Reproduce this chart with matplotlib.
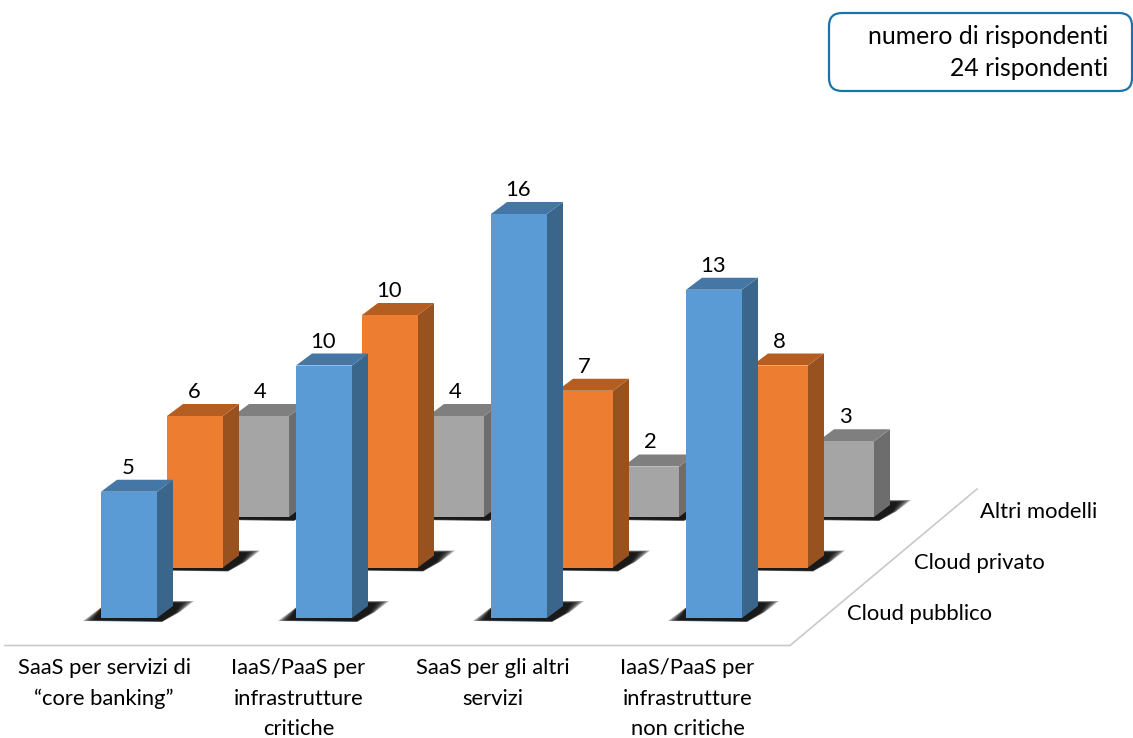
import matplotlib
matplotlib.use("Agg")
import matplotlib.pyplot as plt
from matplotlib.patches import FancyBboxPatch, Polygon

plt.rcParams["font.family"] = ["Lato", "DejaVu Sans"]

categories = ["SaaS per servizi di\n“core banking”",
              "IaaS/PaaS per\ninfrastrutture\ncritiche",
              "SaaS per gli altri\nservizi",
              "IaaS/PaaS per\ninfrastrutture\nnon critiche"]
series = ["Cloud pubblico", "Cloud privato", "Altri modelli"]
pubblico = [5, 10, 16, 13]
privato = [6, 10, 7, 8]
altri = [4, 4, 2, 3]

# front, side, top shades for each series
shades = [("#5B9BD5", "#3B668C", "#4477A6"),
          ("#ED7D31", "#98521F", "#B55E22"),
          ("#A5A5A5", "#6D6D6D", "#7F7F7F")]

# oblique projection of the floor, in figure pixels
UNIT = 25.25      # px per respondent
BAR_W = 56
DX, DY = 16, 12
GROUP_STEP = 195
ROW_DX, ROW_DY = 66, 50.5
X0, Y0 = 101, 618

fig = plt.figure(figsize=(11.33, 7.38), dpi=100)
ax = fig.add_axes([0, 0, 1, 1])
ax.set_xlim(0, 1133)
ax.set_ylim(738, 0)
ax.axis("off")


def draw_shadow(x0, x1, y0, z):
    # stacked translucent shapes give the soft edge under a bar
    layers = 7
    for i in range(layers):
        t = i / (layers - 1)
        pts = [(x0 - 18 + 11 * t, y0 + 3 - t),
               (x0 + 2, y0 - 12),
               (x1 + DX, y0 - DY - 5 + 2 * t),
               (x1 + 37 - 13 * t, y0 - 17 + 2 * t),
               (x1 + 23 - 5 * t, y0 - 6 + t),
               (x1 + 5, y0 + 4 - t)]
        ax.add_patch(Polygon(pts, closed=True, fc="black", ec="none",
                             alpha=0.28, zorder=z))


def draw_bar(group, row, value, colors, z):
    x0 = X0 + group * GROUP_STEP + row * ROW_DX
    x1 = x0 + BAR_W
    y0 = Y0 - row * ROW_DY
    yt = y0 - value * UNIT
    front, side, top = colors
    draw_shadow(x0, x1, y0, z)
    ax.add_patch(Polygon([(x1, y0), (x1 + DX, y0 - DY), (x1 + DX, yt - DY), (x1, yt)],
                         closed=True, fc=side, ec="none", zorder=z + 1))
    ax.add_patch(Polygon([(x0, yt), (x1, yt), (x1 + DX, yt - DY), (x0 + DX, yt - DY)],
                         closed=True, fc=top, ec="none", zorder=z + 1))
    ax.add_patch(Polygon([(x0, y0), (x1, y0), (x1, yt), (x0, yt)],
                         closed=True, fc=front, ec="none", zorder=z + 2))
    ax.text((x0 + x1) / 2 - 1, yt - 24, str(value), ha="center", va="center",
            fontsize=15.8, color="black", zorder=50)


# floor edges
ax.plot([5, 790, 977], [645.5, 645.5, 489], color="#C9C9C9", lw=1.2, zorder=1,
        solid_joinstyle="miter")

# back row first so the nearer bars cover it
rows = [pubblico, privato, altri]
for row in [2, 1, 0]:
    for g, value in enumerate(rows[row]):
        draw_bar(g, row, value, shades[row], 10 + (2 - row) * 5)

for g, label in enumerate(categories):
    ax.text(104 + g * 194.5, 658, label, ha="center", va="top", fontsize=15.8,
            linespacing=1.66, color="black")

for row, name in enumerate(series):
    ax.text(847 + row * 66.5, 613.5 - row * 50.5, name, ha="left", va="center",
            fontsize=15.8, color="black")

# respondents box
ax.add_patch(FancyBboxPatch((841, 25), 279, 54, boxstyle="round,pad=12,rounding_size=13",
                            fc="white", ec="#1A74A8", lw=1.6, zorder=2))
ax.text(1108, 36, "numero di rispondenti", ha="right", va="center", fontsize=17.8, zorder=3)
ax.text(1108, 68, "24 rispondenti", ha="right", va="center", fontsize=17.8, zorder=3)

fig.savefig("out.png", dpi=100)
